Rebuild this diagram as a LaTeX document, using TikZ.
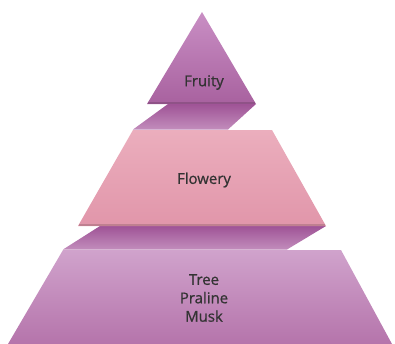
\documentclass[tikz,border=0pt]{standalone}
\usepackage{fontspec}
\setmainfont{Open Sans}
\newfontfamily\labelfont[FakeBold=0.8]{Open Sans}
\usepackage{xcolor}
\usetikzlibrary{positioning}

\definecolor{fruitytop}{HTML}{C98FC4}
\definecolor{fruitybot}{HTML}{A8619F}
\definecolor{flowertop}{HTML}{EBAEBD}
\definecolor{flowerbot}{HTML}{E196AA}
\definecolor{basetop}{HTML}{D0A3CC}
\definecolor{basebot}{HTML}{B574AB}
\definecolor{bandtop}{HTML}{9F5396}
\definecolor{bandbot}{HTML}{C28DBC}
\definecolor{labelgray}{HTML}{333333}

\begin{document}
\begin{tikzpicture}[x=1bp, y=-1bp,
            layer/.style={draw=none},
            band/.style={draw=none, top color=bandtop, bottom color=bandbot},
            rim/.style={line width=2bp, line cap=butt},
            label/.style={font=\labelfont\fontsize{15}{18.5}\selectfont, text=labelgray, align=center, inner sep=0pt}
        ]

\useasboundingbox (0,0) rectangle (395,344);

% Ribbon bands between the layers
            \shade[band] (168,104) -- (256,104) -- (228,129.5) -- (133,129.5) -- cycle;
            \shade[band] (100,226) -- (326,226) -- (287,249.5) -- (63,249.5) -- cycle;

% Top layer
            \shade[layer, top color=fruitytop, bottom color=fruitybot] (202,12) -- (256,104) -- (147,104) -- cycle;
            \draw[rim, draw=fruitybot!85!black] (148,103) -- (255,103);

% Middle layer
            \shade[layer, top color=flowertop, bottom color=flowerbot] (133,130) -- (272,130) -- (326,226) -- (78,226) -- cycle;
            \draw[rim, draw=flowerbot!85!black] (79,225) -- (325,225);

% Bottom layer
            \shade[layer, top color=basetop, bottom color=basebot] (63,250) -- (341,250) -- (392,344) -- (8,344) -- cycle;

% Labels
            \node[label] (fruity) at (204,82.5) {Fruity};
            \node[label] (flowery) at (204,180) {Flowery};
            \node[label] (base) at (204,298) {Tree\\Praline\\Musk};

        \end{tikzpicture}
\end{document}
